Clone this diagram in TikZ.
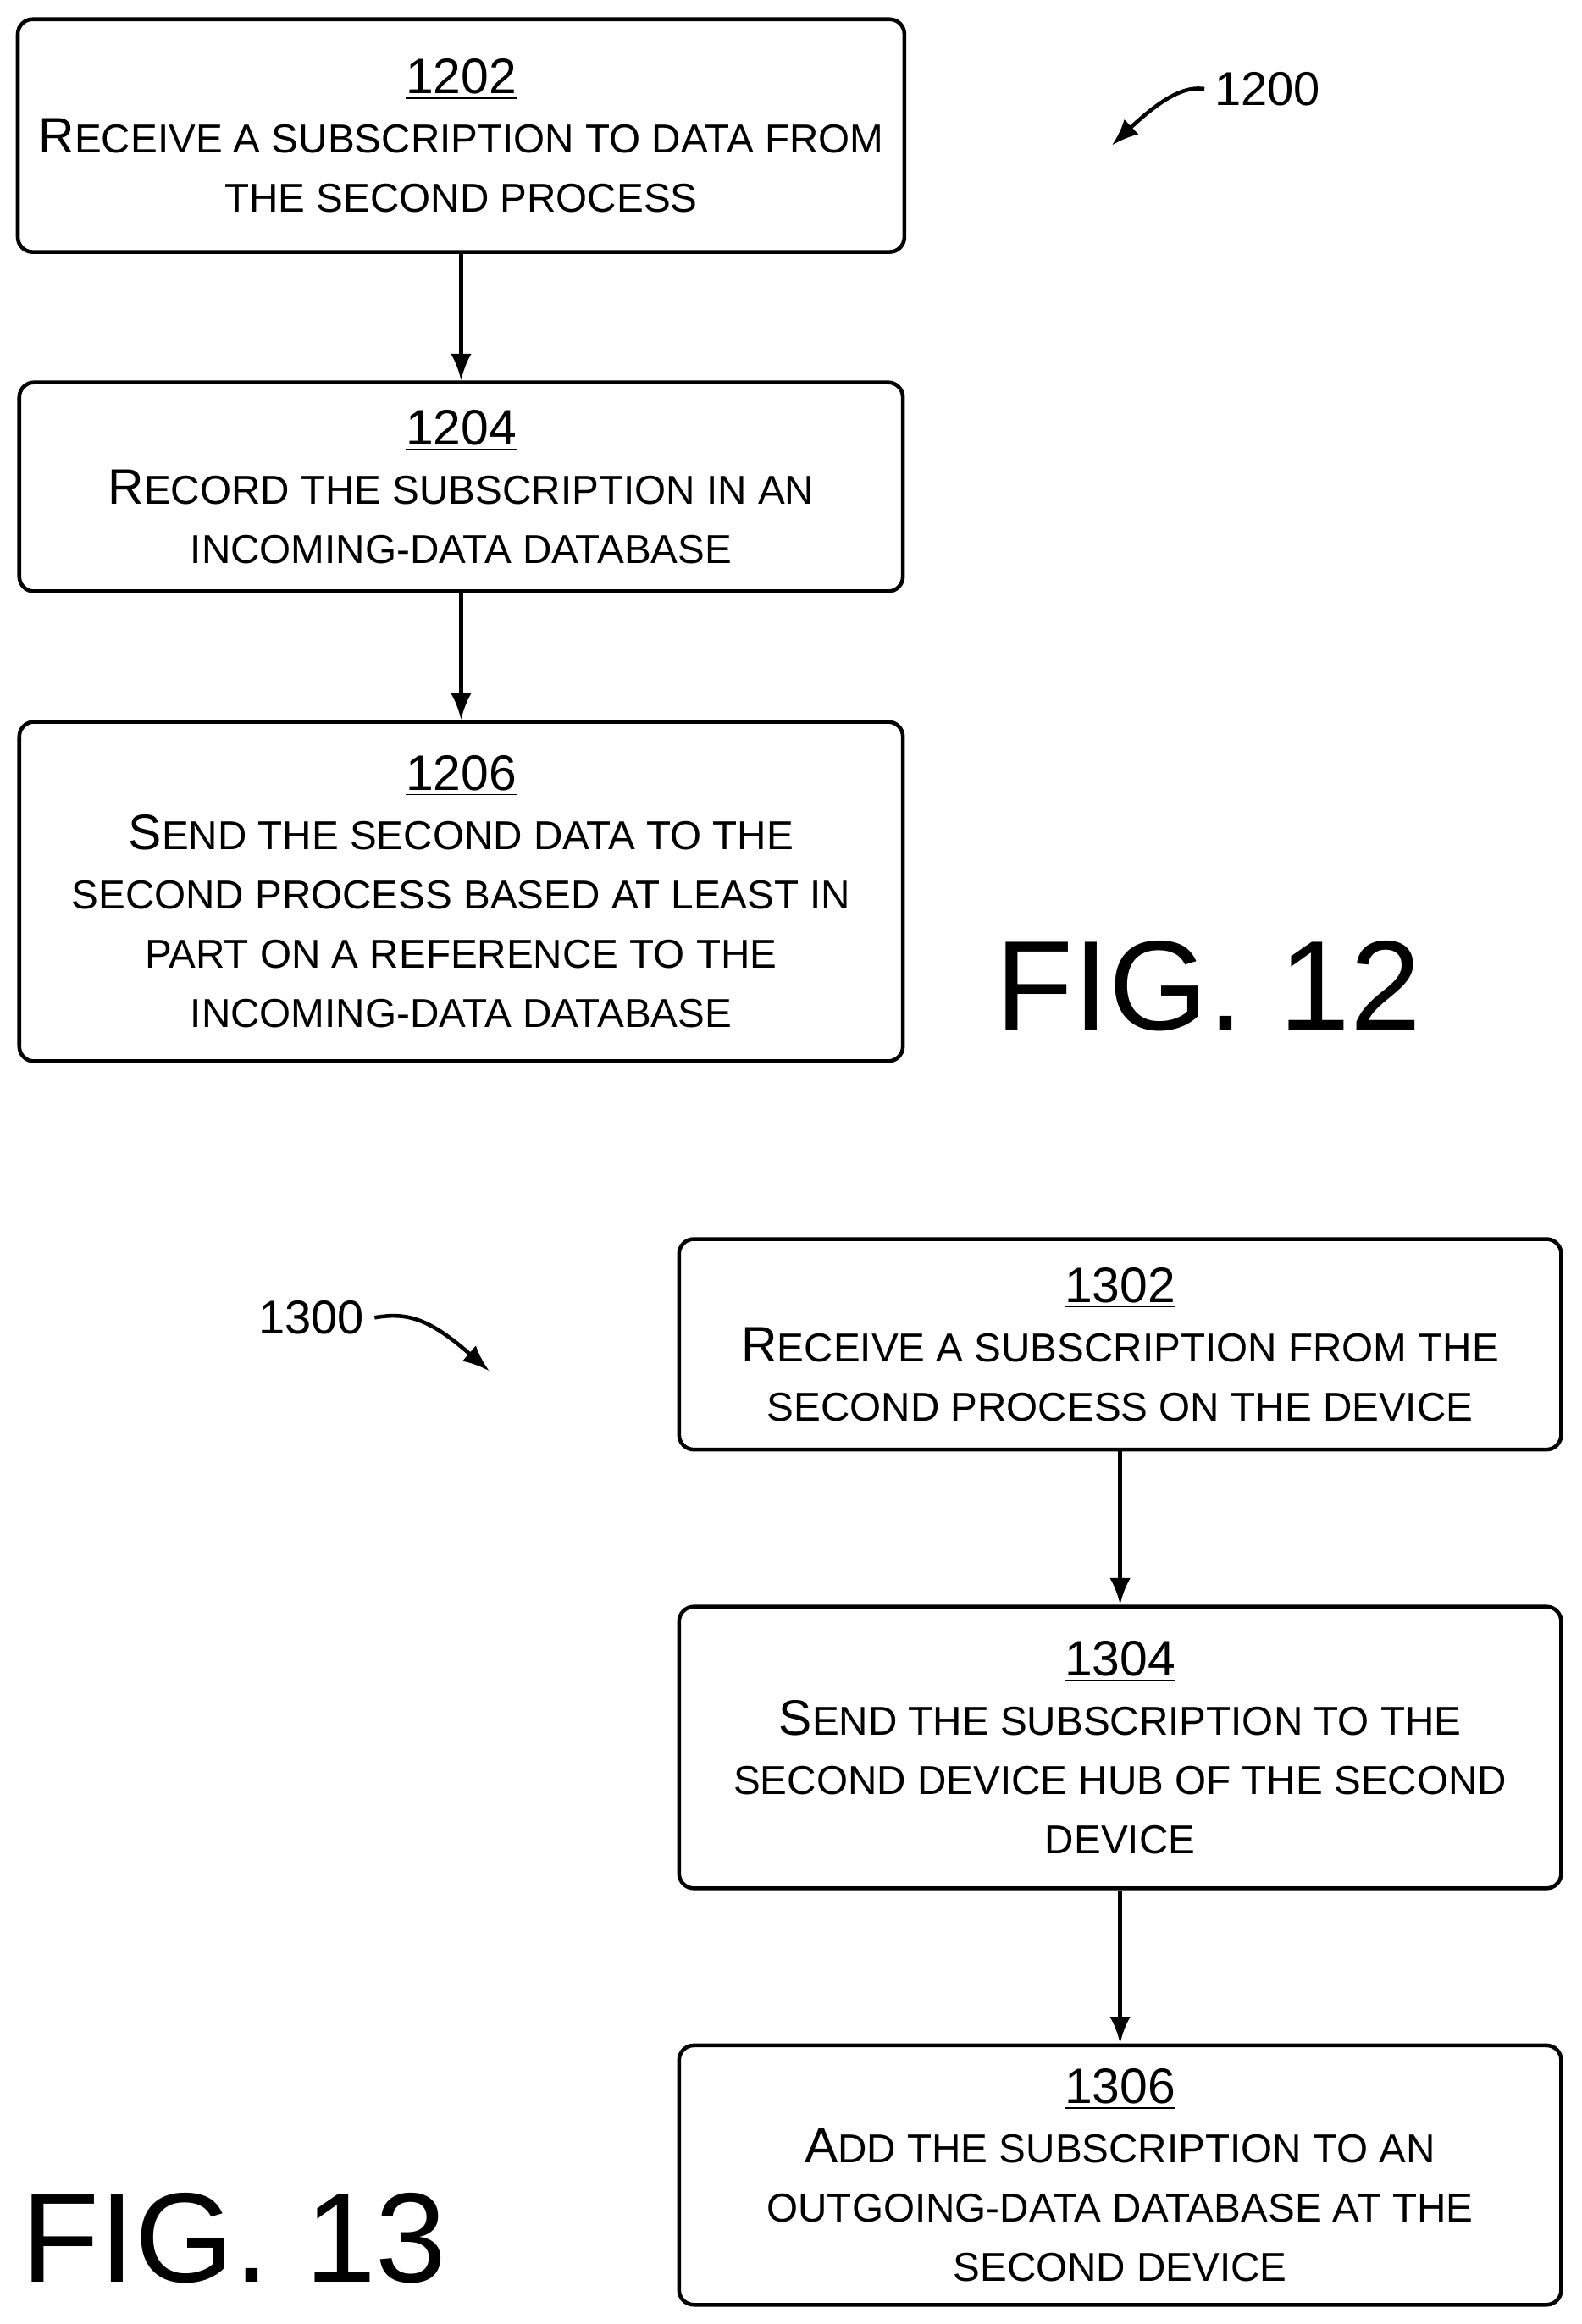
\documentclass[tikz,border=0pt]{standalone}
\usetikzlibrary{arrows.meta}
\usepackage{fontspec}
\setmainfont{Liberation Sans}
\newcommand{\sm}[1]{{\fontsize{13.6pt}{20pt}\selectfont #1}}
\newcommand{\num}[1]{\underline{#1}}
\begin{document}
\begin{tikzpicture}[x=0.5pt,y=-0.5pt,
  box/.style={draw,line width=1.3pt,rounded corners=5pt,align=center,inner sep=0pt,
    font=\fontsize{16.8pt}{20pt}\selectfont},
  arr/.style={line width=1.3pt,-{Latex[length=9pt,width=7pt]}}]
\useasboundingbox (0,0) rectangle (1067,1568);
\node[box,minimum width=299pt,minimum height=78.5pt] (b1202) at (311,91.5)
 {\num{1202}\\R\sm{ECEIVE A SUBSCRIPTION TO DATA FROM}\\\sm{THE SECOND PROCESS}};
\node[box,minimum width=298pt,minimum height=70.5pt] (b1204) at (311,328.5)
 {\num{1204}\\R\sm{ECORD THE SUBSCRIPTION IN AN}\\\sm{INCOMING-DATA DATABASE}};
\node[box,minimum width=298pt,minimum height=114.5pt] (b1206) at (311,601.5)
 {\num{1206}\\S\sm{END THE SECOND DATA TO THE}\\\sm{SECOND PROCESS BASED AT LEAST IN}\\\sm{PART ON A REFERENCE TO THE}\\\sm{INCOMING-DATA DATABASE}};
\draw[arr] (b1202) -- (b1204);
\draw[arr] (b1204) -- (b1206);
\node[font=\fontsize{43pt}{44pt}\selectfont] (f12) at (815,665) {FIG. 12};
\node[font=\fontsize{16pt}{18pt}\selectfont] (l1200) at (855,60) {1200};
\coordinate (a1200) at (750,98);
\draw[arr] (l1200.west) .. controls (800,58) and (785,65) .. (a1200);

\node[box,minimum width=297.5pt,minimum height=71pt] (b1302) at (755.5,907)
 {\num{1302}\\R\sm{ECEIVE A SUBSCRIPTION FROM THE}\\\sm{SECOND PROCESS ON THE DEVICE}};
\node[box,minimum width=297.5pt,minimum height=95pt] (b1304) at (755.5,1179)
 {\num{1304}\\S\sm{END THE SUBSCRIPTION TO THE}\\\sm{SECOND DEVICE HUB OF THE SECOND}\\\sm{DEVICE}};
\node[box,minimum width=297.5pt,minimum height=87.5pt] (b1306) at (755.5,1467.5)
 {\num{1306}\\A\sm{DD THE SUBSCRIPTION TO AN}\\\sm{OUTGOING-DATA DATABASE AT THE}\\\sm{SECOND DEVICE}};
\draw[arr] (b1302) -- (b1304);
\draw[arr] (b1304) -- (b1306);
\node[font=\fontsize{43pt}{44pt}\selectfont] (f13) at (158,1510) {FIG. 13};
\node[font=\fontsize{16pt}{18pt}\selectfont] (l1300) at (210,889) {1300};
\coordinate (a1300) at (330,925);
\draw[arr] (l1300.east) .. controls (275,885) and (290,890) .. (a1300);
\end{tikzpicture}
\end{document}
